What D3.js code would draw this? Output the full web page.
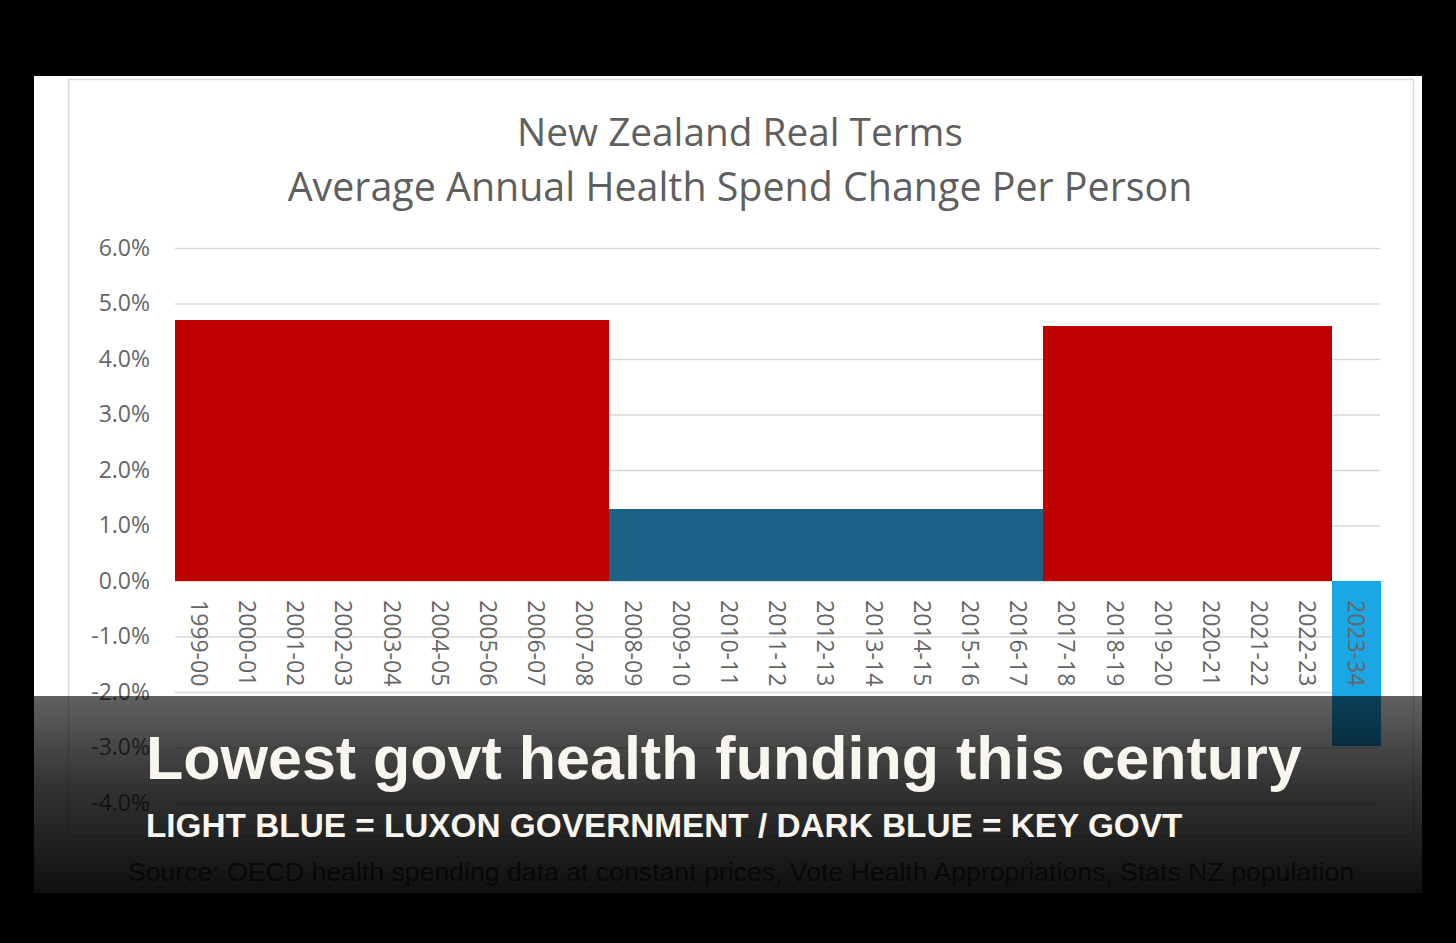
<!DOCTYPE html>
<html>
<head>
<meta charset="utf-8">
<script src="https://cdn.jsdelivr.net/npm/d3@7"></script>
<style>
  html, body { margin: 0; padding: 0; background: #000; }
  svg { display: block; }
</style>
</head>
<body>
<script>
// ---------- DATA ----------
const categories = ["1999-00","2000-01","2001-02","2002-03","2003-04","2004-05","2005-06","2006-07","2007-08",
  "2008-09","2009-10","2010-11","2011-12","2012-13","2013-14","2014-15","2015-16","2016-17",
  "2017-18","2018-19","2019-20","2020-21","2021-22","2022-23","2023-34"];
const values = [4.7,4.7,4.7,4.7,4.7,4.7,4.7,4.7,4.7,
  1.3,1.3,1.3,1.3,1.3,1.3,1.3,1.3,1.3,
  4.6,4.6,4.6,4.6,4.6,4.6,
  -2.97];
const govts = ["Labour","Labour","Labour","Labour","Labour","Labour","Labour","Labour","Labour",
  "Key","Key","Key","Key","Key","Key","Key","Key","Key",
  "Labour","Labour","Labour","Labour","Labour","Labour",
  "Luxon"];
const yTicks = [-4,-3,-2,-1,0,1,2,3,4,5,6];
const titleLines = ["New Zealand Real Terms","Average Annual Health Spend Change Per Person"];
const headline = "Lowest govt health funding this century";
const subline = "LIGHT BLUE = LUXON GOVERNMENT / DARK BLUE = KEY GOVT";
const sourceText = "Source: OECD health spending data at constant prices, Vote Health Appropriations, Stats NZ population";

const govColor = d3.scaleOrdinal().domain(["Labour","Key","Luxon"]).range(["#c00000","#1b6286","#1ba6e6"]);

// ---------- SVG ----------
const W = 1456, H = 943;
const svg = d3.select("body").append("svg").attr("width", W).attr("height", H);
svg.append("rect").attr("width", W).attr("height", H).attr("fill", "#000");

// white card
svg.append("rect").attr("x", 34).attr("y", 76).attr("width", 1388).attr("height", 817).attr("fill", "#fff");
// inner chart border
svg.append("rect").attr("x", 68.5).attr("y", 79.5).attr("width", 1345).attr("height", 757)
  .attr("fill", "none").attr("stroke", "#d9d9d9").attr("stroke-width", 1.5);

function fitWidth(sel, target) {
  const fs = parseFloat(sel.attr("font-size"));
  const w = sel.node().getComputedTextLength();
  if (w > 0) sel.attr("font-size", fs * target / w);
}

// title
const t1 = svg.append("text").attr("x", 740).attr("y", 146).attr("text-anchor", "middle")
  .attr("font-family", "'Open Sans', sans-serif").attr("font-size", 35).attr("fill", "#5f5f5f").text(titleLines[0]);
fitWidth(t1, 446);
const t2 = svg.append("text").attr("x", 740).attr("y", 201).attr("text-anchor", "middle")
  .attr("font-family", "'Open Sans', sans-serif").attr("font-size", 35).attr("fill", "#5f5f5f").text(titleLines[1]);
fitWidth(t2, 905);

// scales
const x = d3.scaleBand().domain(categories).range([175, 1380]).padding(0);
const y = d3.scaleLinear().domain([-4, 6]).range([803, 248]);

// gridlines
const grid = svg.append("g").attr("transform", "translate(175,0)")
  .call(d3.axisLeft(y).tickValues(yTicks).tickSize(-1205).tickFormat(""));
grid.select(".domain").remove();
grid.selectAll("line").attr("stroke", "#d9d9d9").attr("stroke-width", 1.5);

// y axis labels
const yAx = svg.append("g").attr("transform", "translate(175,0)")
  .call(d3.axisLeft(y).tickValues(yTicks).tickSize(0).tickPadding(25).tickFormat(d => d.toFixed(1) + "%"));
yAx.select(".domain").remove();
yAx.selectAll("text").attr("font-family", "'Open Sans', sans-serif").attr("font-size", 23).attr("fill", "#666");

// bars
svg.append("g").attr("shape-rendering", "crispEdges").selectAll("rect").data(categories).join("rect")
  .attr("x", d => x(d))
  .attr("width", x.bandwidth() + 0.6)
  .attr("y", (d, i) => y(Math.max(0, values[i])))
  .attr("height", (d, i) => Math.abs(y(values[i]) - y(0)))
  .attr("fill", (d, i) => govColor(govts[i]));

// x axis labels (rotated)
const xAx = svg.append("g").attr("transform", `translate(0,${y(0)})`)
  .call(d3.axisBottom(x).tickSize(0));
xAx.select(".domain").remove();
xAx.selectAll("text")
  .attr("transform", "rotate(90)")
  .attr("x", 19).attr("y", 0).attr("dy", "0.36em")
  .attr("text-anchor", "start")
  .attr("font-family", "'Open Sans', sans-serif").attr("font-size", 23).attr("fill", "#666");

// source text (beneath overlay)
const src = svg.append("text").attr("x", 741).attr("y", 881).attr("text-anchor", "middle")
  .attr("font-family", "'Liberation Sans', Arial, sans-serif").attr("font-size", 24).attr("fill", "#595959").text(sourceText);
fitWidth(src, 1227);

// dark overlay
const defs = svg.append("defs");
const grad = defs.append("linearGradient").attr("id", "ov").attr("x1", 0).attr("y1", 0).attr("x2", 0).attr("y2", 1);
grad.append("stop").attr("offset", "0%").attr("stop-color", "#000").attr("stop-opacity", 0.62);
grad.append("stop").attr("offset", "45%").attr("stop-color", "#000").attr("stop-opacity", 0.8);
grad.append("stop").attr("offset", "100%").attr("stop-color", "#000").attr("stop-opacity", 0.94);
svg.append("rect").attr("x", 34).attr("y", 696).attr("width", 1388).attr("height", 197).attr("fill", "url(#ov)");

// overlay texts
const h1 = svg.append("text").attr("x", 146).attr("y", 779)
  .attr("font-family", "'Liberation Sans', Arial, sans-serif").attr("font-weight", "bold")
  .attr("font-size", 64).attr("fill", "#f8f6ee").text(headline);
fitWidth(h1, 1156);
const h2 = svg.append("text").attr("x", 146).attr("y", 837)
  .attr("font-family", "'Liberation Sans', Arial, sans-serif").attr("font-weight", "bold")
  .attr("font-size", 34).attr("fill", "#f8f6ee").text(subline);
fitWidth(h2, 1037);
</script>
</body>
</html>
